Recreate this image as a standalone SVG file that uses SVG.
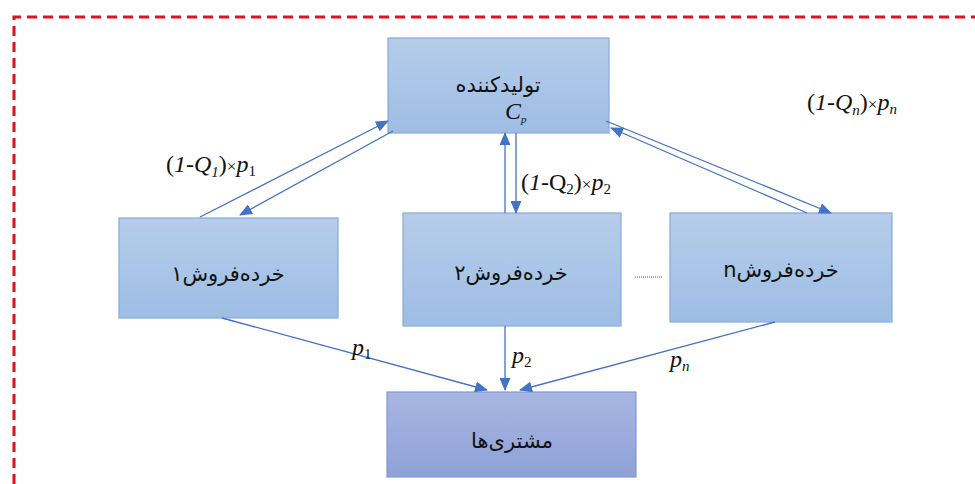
<svg xmlns="http://www.w3.org/2000/svg" width="975" height="484" viewBox="0 0 975 484">
<style>
.fa{font-family:"DejaVu Sans","Noto Sans",sans-serif;font-size:21px;fill:#111;text-anchor:middle}
.m{font-family:"Liberation Serif","DejaVu Serif",serif;font-size:24px;fill:#111}
.it{font-style:italic}
.box{fill:url(#gb);stroke:#86aadb;stroke-width:1.2}
.cbox{fill:url(#gc);stroke:#7f98d4;stroke-width:1.2}
.c{stroke:#4472c4;stroke-width:1.3;fill:none;marker-end:url(#ah)}
</style>
<defs>
<linearGradient id="gb" x1="0" y1="0" x2="0" y2="1"><stop offset="0" stop-color="#b6cdea"/><stop offset="1" stop-color="#9dbde4"/></linearGradient>
<linearGradient id="gc" x1="0" y1="0" x2="0" y2="1"><stop offset="0" stop-color="#a8b6e1"/><stop offset="1" stop-color="#8ea2d8"/></linearGradient>
<marker id="ah" markerUnits="userSpaceOnUse" markerWidth="13" markerHeight="11" refX="12" refY="5.5" orient="auto"><path d="M0,0 L13,5.5 L0,11 z" fill="#4472c4"/></marker>
</defs>
<rect width="975" height="484" fill="#fff"/>
<path d="M14,484 V17 H975" fill="none" stroke="#e3101b" stroke-width="3" stroke-dasharray="10,6"/>
<g id="producer">
<rect class="box" x="388" y="38" width="221" height="95"/>
<text class="fa" x="498" y="92" font-size="22" direction="rtl">تولیدکننده</text>
<text class="m it" x="505" y="119" font-size="15">C<tspan font-size="11" dy="4">p</tspan></text>
</g>
<g id="retailer1">
<rect class="box" x="119" y="218" width="219" height="100"/>
<text class="fa" x="228" y="281" font-size="24" direction="rtl">خرده‌فروش۱</text>
</g>
<g id="retailer2">
<rect class="box" x="403" y="213" width="218" height="113"/>
<text class="fa" x="511" y="280" font-size="24" direction="rtl">خرده‌فروش۲</text>
</g>
<g id="retailern">
<rect class="box" x="670" y="213" width="222" height="109"/>
<text class="fa" x="781" y="277" font-size="24" direction="rtl">خرده‌فروشn</text>
</g>
<g id="customers">
<rect class="cbox" x="387" y="392" width="249" height="85"/>
<text class="fa" x="512" y="448" font-size="22" direction="rtl">مشتری‌ها</text>
</g>
<g id="connectors">
<path class="c" d="M200,217 L388,121"/>
<path class="c" d="M393,131 L240,215"/>
<path class="c" d="M505,213 L505,133"/>
<path class="c" d="M516,133 L516,213"/>
<path class="c" d="M606,121 L831,213"/>
<path class="c" d="M807,213 L611,128"/>
<path class="c" d="M222,318 L487,390"/>
<path class="c" d="M505,326 L505,390"/>
<path class="c" d="M775,322 L520,390"/>
<line x1="635" y1="277" x2="663" y2="277" stroke="#555" stroke-width="1" stroke-dasharray="1,1"/>
</g>
<g id="labels">
<text class="m" x="166" y="172">(<tspan class="it">1-Q</tspan><tspan class="it" font-size="15" dy="5">1</tspan><tspan dy="-5">)</tspan><tspan font-size="17">×</tspan><tspan class="it">p</tspan><tspan font-size="15" dy="4">1</tspan></text>
<text class="m" x="521" y="190">(<tspan class="it">1</tspan>-Q<tspan font-size="15" dy="4">2</tspan><tspan dy="-4">)</tspan><tspan font-size="17">×</tspan><tspan class="it">p</tspan><tspan font-size="15" dy="4">2</tspan></text>
<text class="m" x="807" y="110">(<tspan class="it">1-Q</tspan><tspan class="it" font-size="15" dy="5">n</tspan><tspan dy="-5">)</tspan><tspan font-size="17">×</tspan><tspan class="it">p</tspan><tspan class="it" font-size="15" dy="4">n</tspan></text>
<text class="m" x="352" y="355"><tspan class="it">p</tspan><tspan font-size="15" dy="4">1</tspan></text>
<text class="m" x="512" y="363"><tspan class="it">p</tspan><tspan font-size="15" dy="4">2</tspan></text>
<text class="m" x="670" y="367"><tspan class="it">p</tspan><tspan class="it" font-size="15" dy="4">n</tspan></text>
</g>
</svg>
